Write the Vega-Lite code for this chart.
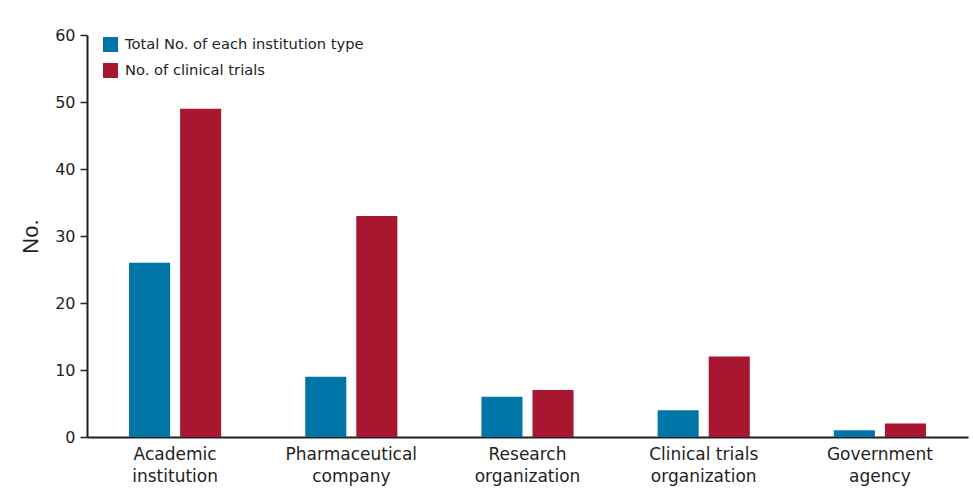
{
  "$schema": "https://vega.github.io/schema/vega-lite/v6.json",
  "autosize": "none",
  "width": 881,
  "height": 402,
  "padding": {"left": 87, "top": 35, "right": 5, "bottom": 59},
  "background": "white",
  "config": {
    "view": {"stroke": null},
    "font": "DejaVu Sans",
    "axis": {"labelFont": "DejaVu Sans", "titleFont": "DejaVu Sans", "labelColor": "#231f20", "titleColor": "#231f20", "domainColor": "#231f20", "tickColor": "#231f20"},
    "legend": {"labelFont": "DejaVu Sans"}
  },
  "data": {
    "values": [
      {"category": "Academic|institution", "series": "Total No. of each institution type", "value": 26},
      {"category": "Academic|institution", "series": "No. of clinical trials", "value": 49},
      {"category": "Pharmaceutical|company", "series": "Total No. of each institution type", "value": 9},
      {"category": "Pharmaceutical|company", "series": "No. of clinical trials", "value": 33},
      {"category": "Research|organization", "series": "Total No. of each institution type", "value": 6},
      {"category": "Research|organization", "series": "No. of clinical trials", "value": 7},
      {"category": "Clinical trials|organization", "series": "Total No. of each institution type", "value": 4},
      {"category": "Clinical trials|organization", "series": "No. of clinical trials", "value": 12},
      {"category": "Government|agency", "series": "Total No. of each institution type", "value": 1},
      {"category": "Government|agency", "series": "No. of clinical trials", "value": 2}
    ]
  },
  "mark": {"type": "bar"},
  "encoding": {
    "x": {
      "field": "category",
      "type": "nominal",
      "sort": null,
      "scale": {"paddingInner": 0.477, "paddingOuter": 0.2385},
      "axis": {
        "title": null,
        "labelAngle": 0,
        "labelExpr": "split(datum.label, '|')",
        "labelFontSize": 17,
        "labelLineHeight": 22,
        "labelPadding": 9,
        "labelLimit": 0,
        "ticks": false,
        "domainWidth": 2
      }
    },
    "xOffset": {
      "field": "series",
      "type": "nominal",
      "sort": ["Total No. of each institution type", "No. of clinical trials"],
      "scale": {"paddingInner": 0.196, "paddingOuter": 0}
    },
    "y": {
      "field": "value",
      "type": "quantitative",
      "scale": {"domain": [0, 60], "nice": false},
      "axis": {
        "title": "No.",
        "grid": false,
        "values": [0, 10, 20, 30, 40, 50, 60],
        "labelFontSize": 16,
        "labelPadding": 5,
        "tickSize": 7,
        "tickWidth": 1.5,
        "domainWidth": 2,
        "titleFont": "Liberation Sans",
        "titleFontSize": 22,
        "titleFontWeight": "normal",
        "titlePadding": 12
      }
    },
    "color": {
      "field": "series",
      "type": "nominal",
      "sort": ["Total No. of each institution type", "No. of clinical trials"],
      "scale": {"domain": ["Total No. of each institution type", "No. of clinical trials"], "range": ["#0076A8", "#A9162F"]},
      "legend": {
        "title": null,
        "orient": "none",
        "legendX": 16,
        "legendY": 2,
        "symbolType": "square",
        "symbolSize": 225,
        "symbolStrokeWidth": 0,
        "symbolOpacity": 1,
        "labelFontSize": 14.7,
        "labelLimit": 0,
        "labelColor": "#231f20",
        "labelOffset": 7,
        "rowPadding": 10
      }
    }
  }
}
